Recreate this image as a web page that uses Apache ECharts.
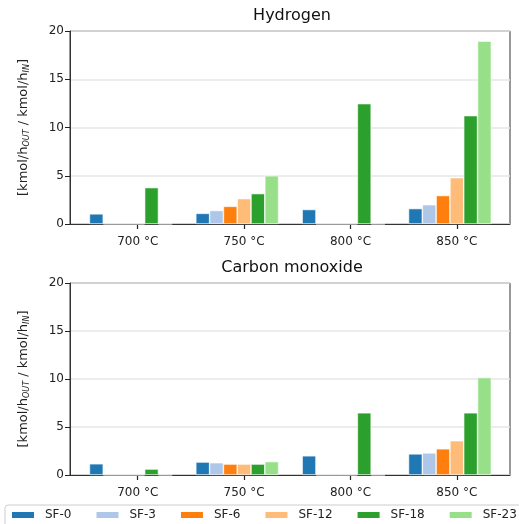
<!DOCTYPE html>
<html>
<head>
<meta charset="utf-8">
<script src="https://cdn.jsdelivr.net/npm/echarts@6/dist/echarts.min.js"></script>
<style>
  html, body { margin: 0; padding: 0; background: #fff; }
  #main { width: 519px; height: 524px; }
</style>
</head>
<body>
<div id="main"></div>
<script>
// temperatures on the x axis
const temps = ["700 °C", "750 °C", "800 °C", "850 °C"];
const seriesNames = ["SF-0", "SF-3", "SF-6", "SF-12", "SF-18", "SF-23"];
const colors = ["#1f77b4", "#aec7e8", "#ff7f0e", "#ffbb78", "#2ca02c", "#98df8a"];

// Hydrogen, one array per steam fraction (values by temperature)
const h2_sf0 = [1.05, 1.1, 1.5, 1.6];
const h2_sf3 = [0, 1.4, 0, 2.0];
const h2_sf6 = [0, 1.83, 0, 2.95];
const h2_sf12 = [0, 2.63, 0, 4.8];
const h2_sf18 = [3.77, 3.15, 12.47, 11.23];
const h2_sf23 = [0, 5.0, 0, 18.95];

// Carbon monoxide
const co_sf0 = [1.17, 1.35, 2.0, 2.2];
const co_sf3 = [0, 1.28, 0, 2.3];
const co_sf6 = [0, 1.14, 0, 2.73];
const co_sf12 = [0, 1.14, 0, 3.57];
const co_sf18 = [0.62, 1.14, 6.48, 6.48];
const co_sf23 = [0, 1.4, 0, 10.15];

const h2Data = [h2_sf0, h2_sf3, h2_sf6, h2_sf12, h2_sf18, h2_sf23];
const coData = [co_sf0, co_sf3, co_sf6, co_sf12, co_sf18, co_sf23];

let dom = document.getElementById("main");
let myChart = echarts.init(dom, null, { renderer: "canvas" });

const font = "DejaVu Sans";
const tickPos = temps.map(function (t, i) { return i; });

function makeX(gi) {
    return {
        type: "value",
        gridIndex: gi,
        min: -0.637,
        max: 3.5,
        axisLine: { onZero: false, lineStyle: { color: "#333", width: 1 } },
        axisTick: { show: true, customValues: tickPos, length: 5, lineStyle: { color: "#222", width: 1.2 } },
        axisLabel: {
            customValues: tickPos,
            formatter: function (v) { return temps[Math.round(v)]; },
            color: "#222", fontSize: 12, fontFamily: font, margin: 12,
        },
        splitLine: { show: false },
    };
}

function makeY(gi) {
    return {
        type: "value",
        gridIndex: gi,
        min: 0,
        max: 20,
        interval: 5,
        name: "[kmol/h{s|OUT} / kmol/h{s|IN}]",
        nameLocation: "middle",
        nameGap: 39,
        nameTextStyle: {
            color: "#222",
            fontSize: 13,
            fontFamily: font,
            rich: {
                s: { fontSize: 8, fontStyle: "italic", fontFamily: font, color: "#222", padding: [7, 0, 0, 0] },
            },
        },
        axisLine: { show: true, onZero: false, lineStyle: { color: "#333" } },
        axisTick: { show: true, length: 5, lineStyle: { color: "#222" } },
        axisLabel: { color: "#222", fontSize: 12, fontFamily: font, margin: 6 },
        splitLine: { show: true, lineStyle: { color: "#e6e6e6", width: 1.5 } },
    };
}

let series = [];
[h2Data, coData].forEach(function (set, gi) {
    set.forEach(function (vals, i) {
        series.push({
            name: seriesNames[i],
            type: "bar",
            xAxisIndex: gi,
            yAxisIndex: gi,
            data: vals.map(function (v, k) { return [k, v]; }),
            itemStyle: { color: colors[i], borderColor: "#fff", borderWidth: 0.6 },
            barWidth: 13.8,
            barGap: "0%",
        });
    });
    // empty slot so the group sits like the original (offset by half a bar)
    series.push({
        name: "pad",
        type: "bar",
        xAxisIndex: gi,
        yAxisIndex: gi,
        data: [],
        barWidth: 13.8,
        barGap: "0%",
    });
});

let option = {
    animation: false,
    color: colors,
    title: [
        { text: "Hydrogen", left: 287, top: 3, textAlign: "center",
          textStyle: { fontSize: 16, fontWeight: "normal", color: "#111", fontFamily: font } },
        { text: "Carbon monoxide", left: 287, top: 255, textAlign: "center",
          textStyle: { fontSize: 16, fontWeight: "normal", color: "#111", fontFamily: font } },
    ],
    legend: {
        data: seriesNames,
        left: 5,
        top: 505,
        width: 520,
        padding: [4, 6, 6, 5],
        itemGap: 23,
        itemWidth: 24,
        itemHeight: 8,
        borderColor: "#ccc",
        borderWidth: 1,
        borderRadius: 3,
        icon: "rect",
        textStyle: { fontSize: 12, color: "#222", fontFamily: font, padding: [0, 0, 0, 5] },
    },
    grid: [
        { left: 70, right: 9, top: 31, height: 193, show: true, borderColor: "#333", borderWidth: 1 },
        { left: 70, right: 9, top: 283, height: 192, show: true, borderColor: "#333", borderWidth: 1 },
    ],
    xAxis: [makeX(0), makeX(1)],
    yAxis: [makeY(0), makeY(1)],
    series: series,
};

myChart.setOption(option);
window.addEventListener("resize", myChart.resize);
</script>
</body>
</html>
